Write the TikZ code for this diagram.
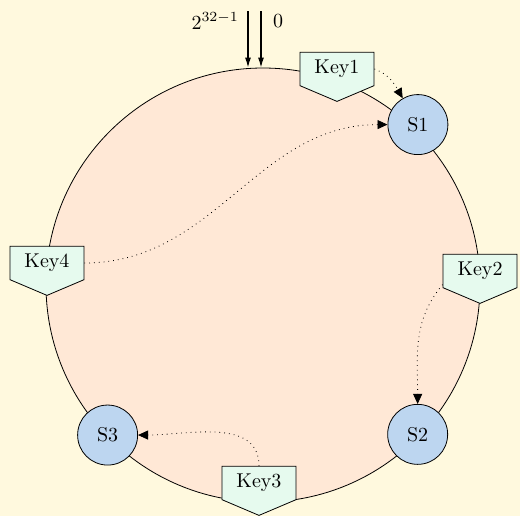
\documentclass[tikz,border=0pt]{standalone}
\usepackage{tikz}
\usetikzlibrary{shapes.symbols, arrows.meta, positioning}
\definecolor{bgyellow}{RGB}{255,249,222}
\definecolor{ringfill}{RGB}{255,232,214}
\definecolor{keyfill}{RGB}{230,250,238}
\definecolor{serverfill}{RGB}{189,214,240}
\tikzstyle{server} = [circle, draw=black, fill=serverfill, minimum size=30pt, inner sep=0pt]
\tikzstyle{keytag} = [signal, signal to=south, signal pointer angle=134, draw=black, fill=keyfill, minimum width=37pt, inner xsep=2pt, inner ysep=3.9pt]
\tikzstyle{lookup} = [dotted, -{Triangle[length=5pt,width=4.5pt]}]
\tikzstyle{arrow} = [semithick, -{Latex[length=5pt,width=3pt]}]

\begin{document}
\begin{tikzpicture}[x=0.5pt, y=0.5pt]
  \path[use as bounding box, fill=bgyellow] (-263,-231) rectangle (257,285);

  % Ring
  \node[circle, draw=black, fill=ringfill, minimum size=217pt, inner sep=0pt] (ring) at (0,0) {};

  % Start of the hash space
  \coordinate (last) at (-15,274);
  \coordinate (zero) at (-2,274);
  \node[anchor=east] (lastlbl) at (-17,264) {$2^{32-1}$};
  \node[anchor=west] (zerolbl) at (3,264) {0};
  \draw[arrow] (last) -- (last |- ring.north);
  \draw[arrow] (zero) -- (zero |- ring.north);

  % Servers
  \node[server] (s1) at (46:223) {S1};
  \node[server] (s2) at (-44:215) {S2};
  \node[server] (s3) at (-136:216) {S3};

  % Keys
  \node[keytag] (key1) at (74,216) {Key1};
  \node[keytag] (key2) at (217,14) {Key2};
  \node[keytag] (key3) at (-4,-198) {Key3};
  \node[keytag] (key4) at (-216,22) {Key4};

  % Lookups
  \draw[lookup] (key1.east) to[out=-20, in=120] (s1);
  \draw[lookup] (key4.east) to[out=0, in=180] (s1);
  \draw[lookup] (key2.200) to[out=230, in=90] (s2);
  \draw[lookup] (key3.north) to[out=90, in=0] (s3);
\end{tikzpicture}
\end{document}
